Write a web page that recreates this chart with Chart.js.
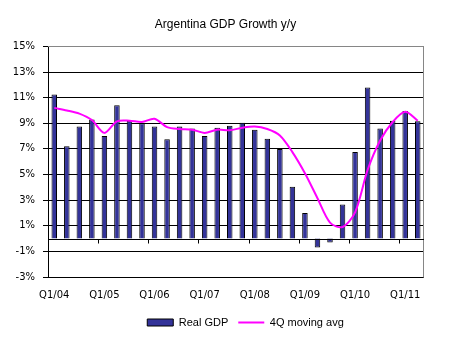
<!DOCTYPE html>
<html>
<head>
<meta charset="utf-8">
<script src="https://cdn.jsdelivr.net/npm/chart.js@4.4.1/dist/chart.umd.min.js"></script>
<style>
  html, body { margin: 0; padding: 0; background: #fff; }
</style>
</head>
<body>
<canvas id="gdpChart" width="451" height="342"></canvas>
<script>
// 季度標籤 Q1/04 ~ Q2/11
const quarters = [
  'Q1/04', 'Q2/04', 'Q3/04', 'Q4/04',
  'Q1/05', 'Q2/05', 'Q3/05', 'Q4/05',
  'Q1/06', 'Q2/06', 'Q3/06', 'Q4/06',
  'Q1/07', 'Q2/07', 'Q3/07', 'Q4/07',
  'Q1/08', 'Q2/08', 'Q3/08', 'Q4/08',
  'Q1/09', 'Q2/09', 'Q3/09', 'Q4/09',
  'Q1/10', 'Q2/10', 'Q3/10', 'Q4/10',
  'Q1/11', 'Q2/11'
];

// 實質 GDP 年增率 (%)
const realGdp = [
  11.25, 7.2, 8.75, 9.3,
  8.0, 10.4, 9.2, 9.0,
  8.75, 7.75, 8.75, 8.6,
  8.0, 8.65, 8.8, 9.05,
  8.5, 7.8, 7.0, 4.05,
  2.0, -0.7, -0.3, 2.65,
  6.75, 11.8, 8.6, 9.2,
  9.95, 9.15
];

// 四季移動平均 (%)
const movingAvg = [
  10.2, 10.0, 9.75, 9.25,
  8.25, 9.15, 9.2, 9.1,
  9.35, 8.7, 8.55, 8.5,
  8.25, 8.5, 8.45, 8.65,
  8.75, 8.55, 8.05, 6.75,
  5.1, 3.15, 1.25, 0.9,
  2.05, 5.35, 7.65, 9.1,
  9.9, 9.2
];

// Y 軸刻度
const yTicks = [-3, -1, 1, 3, 5, 7, 9, 11, 13, 15];

// 零軸線、類別刻度與灰色外框
const axisDecor = {
  id: 'axisDecor',
  afterLayout(chart) {
    // 圖例整體往右移一點
    chart.legend.left += 20;
    chart.legend.right += 20;
  },
  afterDatasetsDraw(chart) {
    const { ctx, chartArea: a, scales: { x, y } } = chart;
    ctx.save();
    ctx.lineWidth = 1;

    ctx.strokeStyle = '#868686';
    ctx.beginPath();
    ctx.moveTo(a.left, Math.round(a.top) + 0.5);
    ctx.lineTo(Math.round(a.right) - 0.5, Math.round(a.top) + 0.5);
    ctx.lineTo(Math.round(a.right) - 0.5, Math.round(a.bottom) + 0.5);
    ctx.stroke();

    const y0 = Math.round(y.getPixelForValue(0)) + 0.5;
    ctx.strokeStyle = '#000';
    ctx.beginPath();
    ctx.moveTo(a.left, y0);
    ctx.lineTo(a.right, y0);
    for (let i = 4; i < quarters.length; i += 4) {
      const xb = Math.round((x.getPixelForTick(i - 1) + x.getPixelForTick(i)) / 2) + 0.5;
      ctx.moveTo(xb, y0);
      ctx.lineTo(xb, y0 + 4);
    }
    ctx.stroke();
    ctx.restore();
  }
};

const ctx = document.getElementById('gdpChart').getContext('2d');

new Chart(ctx, {
  type: 'bar',
  data: {
    labels: quarters,
    datasets: [
      {
        type: 'bar',
        label: 'Real GDP',
        data: realGdp,
        backgroundColor: '#333399',
        borderColor: '#000',
        borderWidth: 1,
        barPercentage: 0.44,
        categoryPercentage: 1,
        pointStyle: 'rect',
        order: 2
      },
      {
        type: 'line',
        label: '4Q moving avg',
        data: movingAvg,
        borderColor: '#ff00ff',
        backgroundColor: '#ff00ff',
        borderWidth: 2,
        pointRadius: 0,
        tension: 0.3,
        pointStyle: 'line',
        order: 1
      }
    ]
  },
  options: {
    responsive: false,
    animation: false,
    devicePixelRatio: 1,
    layout: { padding: { left: 0, right: 0, top: 0, bottom: 4 } },
    plugins: {
      title: {
        display: true,
        text: 'Argentina GDP Growth y/y',
        color: '#000',
        font: { family: 'Liberation Sans', size: 12, weight: 'normal' },
        padding: { top: 17, bottom: 15 }
      },
      legend: {
        position: 'bottom',
        labels: {
          usePointStyle: true,
          pointStyleWidth: 26,
          boxHeight: 7,
          color: '#000',
          font: { family: 'Liberation Sans', size: 11 },
          padding: 10,
          sort: (a, b) => a.datasetIndex - b.datasetIndex
        }
      },
      tooltip: { enabled: false }
    },
    scales: {
      x: {
        afterFit: s => { s.height = 30; },
        grid: { display: false, drawTicks: false },
        border: { display: false },
        ticks: {
          autoSkip: false,
          maxRotation: 0,
          color: '#000',
          font: { family: 'DejaVu Sans', size: 10 },
          padding: 12,
          callback: (v, i) => (i % 4 === 0 ? quarters[i] : '')
        }
      },
      y: {
        min: -3,
        max: 15,
        afterBuildTicks: s => { s.ticks = yTicks.map(v => ({ value: v })); },
        afterFit: s => { s.width = 48; },
        grid: {
          color: c => (c.tick && c.tick.value === 15 ? '#868686' : '#000'),
          tickColor: '#000',
          tickLength: 5
        },
        border: { color: '#000' },
        ticks: {
          color: '#000',
          font: { family: 'DejaVu Sans', size: 10 },
          padding: 8,
          callback: v => v + '%'
        }
      },
      // 右側留白用的空軸
      yRight: {
        position: 'right',
        afterFit: s => { s.width = 27; },
        grid: { display: false, drawTicks: false },
        border: { display: false },
        ticks: { display: false }
      }
    }
  },
  plugins: [axisDecor]
});
</script>
</body>
</html>
